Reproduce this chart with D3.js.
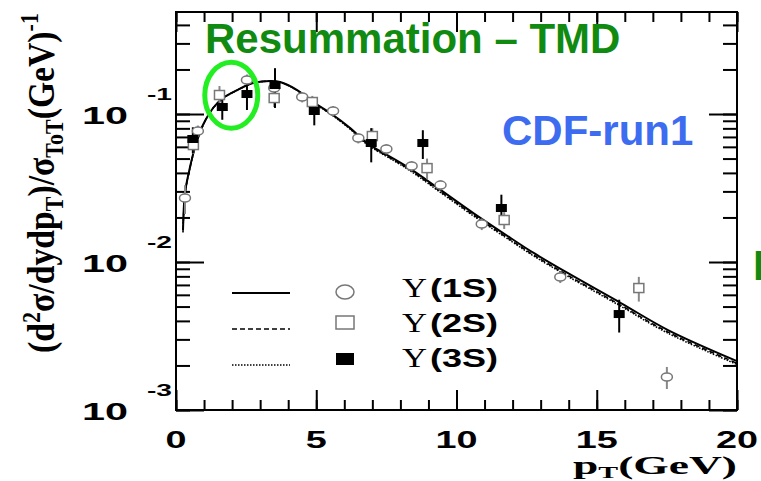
<!DOCTYPE html>
<html>
<head>
<meta charset="utf-8">
<script src="https://cdn.jsdelivr.net/npm/d3@7"></script>
<style>
body{margin:0;background:#fff;}
svg{display:block;}
</style>
</head>
<body>
<svg id="chart" width="761" height="481"></svg>
<script>
// resummation curves, one per state (almost on top of each other)
const modelPt = [0.25, 0.32, 0.5, 0.68, 0.96, 1.32, 1.68, 2.18, 2.75, 3.36, 3.71, 4.32, 4.89, 5.5, 6.21, 6.68, 7.04, 8.25, 9.43, 10.6, 11.93, 12.75, 13.96, 15.86, 17.54, 20.0];
const model1S = [0.01644, 0.02924, 0.04385, 0.05984, 0.08433, 0.1098, 0.1283, 0.1452, 0.1620, 0.1671, 0.1644, 0.1452, 0.1205, 0.1016, 0.0804, 0.0667, 0.0598, 0.0439, 0.0307, 0.0214, 0.01452, 0.01151, 0.00843, 0.00528, 0.00347, 0.00214];
const model2S = [0.01600, 0.02880, 0.04340, 0.05950, 0.08400, 0.1095, 0.1280, 0.1450, 0.1618, 0.1668, 0.1640, 0.1447, 0.1198, 0.1008, 0.0795, 0.0658, 0.0589, 0.0430, 0.0299, 0.0208, 0.01410, 0.01115, 0.00815, 0.00510, 0.00336, 0.00207];
const model3S = [0.01580, 0.02860, 0.04320, 0.05930, 0.08380, 0.1093, 0.1278, 0.1448, 0.1616, 0.1665, 0.1637, 0.1443, 0.1193, 0.1002, 0.0789, 0.0652, 0.0583, 0.0425, 0.0295, 0.0205, 0.01390, 0.01098, 0.00802, 0.00502, 0.00330, 0.00203];

// CDF run 1 points (value, relative error)
const pt1S  = [0.32, 0.78, 2.53, 3.5, 4.5, 5.6, 6.5, 7.5, 8.4, 9.43, 10.9, 13.7, 17.5];
const val1S = [0.02706, 0.0767, 0.1697, 0.1498, 0.1302, 0.1048, 0.0688, 0.0580, 0.0445, 0.0331, 0.01806, 0.00792, 0.00167];
const err1S = [0.22, 0.09, 0.09, 0.09, 0.08, 0.08, 0.08, 0.08, 0.08, 0.08, 0.09, 0.09, 0.17];

const pt2S  = [0.62, 1.55, 3.5, 4.86, 7.0, 8.95, 11.7, 16.5];
const val2S = [0.0617, 0.1344, 0.1282, 0.1205, 0.0710, 0.0431, 0.01922, 0.00667];
const err2S = [0.13, 0.15, 0.13, 0.10, 0.13, 0.16, 0.13, 0.19];

const pt3S  = [0.6, 1.65, 2.53, 3.53, 4.93, 6.96, 8.8, 11.6, 15.8];
const val3S = [0.0678, 0.1115, 0.1365, 0.1570, 0.1048, 0.0637, 0.0637, 0.02317, 0.00445];
const err3S = [0.20, 0.18, 0.22, 0.30, 0.20, 0.26, 0.22, 0.23, 0.25];

const xTickLabels = [0, 5, 10, 15, 20];
const yDecades = [-1, -2, -3];
const legendNames = ['1S', '2S', '3S'];

const mLeft = 176, mRight = 737, mTop = 12, mBottom = 410;
const SANS = 'Liberation Sans, Arial, sans-serif';
const SERIF = 'Liberation Serif, Times New Roman, serif';

const svg = d3.select('#chart');
const x = d3.scaleLinear().domain([0, 20]).range([mLeft, mRight]);
const y = d3.scaleLog().domain([1e-3, 0.489]).range([mBottom, mTop]);

// ---- axes (ticks pointing inward on all four sides)
const minorX = d3.range(0, 21);
const majorX = minorX.filter(d => d % 5 == 0);
const allY = y.ticks();
const majorY = allY.filter(d => Math.abs(Math.log10(d) - Math.round(Math.log10(d))) < 1e-6);

function axisGroup(axis, tx, ty) {
  const g = svg.append('g').attr('transform', `translate(${tx},${ty})`).call(axis);
  g.select('.domain').remove();
  g.selectAll('.tick line').attr('stroke', '#000').attr('stroke-width', 2);
  g.selectAll('text').remove();
  return g;
}
axisGroup(d3.axisBottom(x).tickValues(minorX).tickSize(-10), 0, mBottom);
axisGroup(d3.axisBottom(x).tickValues(majorX).tickSize(-20), 0, mBottom);
axisGroup(d3.axisTop(x).tickValues(minorX).tickSize(-10), 0, mTop);
axisGroup(d3.axisTop(x).tickValues(majorX).tickSize(-20), 0, mTop);
axisGroup(d3.axisLeft(y).tickValues(allY).tickSize(-14), mLeft, 0);
axisGroup(d3.axisLeft(y).tickValues(majorY).tickSize(-28), mLeft, 0);
axisGroup(d3.axisRight(y).tickValues(allY).tickSize(-14), mRight, 0);
axisGroup(d3.axisRight(y).tickValues(majorY).tickSize(-28), mRight, 0);

svg.append('rect')
  .attr('x', mLeft).attr('y', mTop)
  .attr('width', mRight - mLeft).attr('height', mBottom - mTop)
  .attr('fill', 'none').attr('stroke', '#000').attr('stroke-width', 2);

// tick labels (the original picture is stretched sideways)
svg.append('g').selectAll('text')
  .data(xTickLabels)
  .join('text')
  .attr('x', d => x(d)).attr('y', 448)
  .attr('text-anchor', 'middle')
  .attr('font-family', SANS).attr('font-weight', 'bold').attr('font-size', 24)
  .attr('textLength', d => String(d).length * 21)
  .attr('lengthAdjust', 'spacingAndGlyphs')
  .text(d => d);

const yl = svg.append('g').selectAll('g').data(yDecades).join('g');
yl.append('text')
  .attr('x', 82).attr('y', d => y(Math.pow(10, d)) + 10)
  .attr('font-family', SANS).attr('font-weight', 'bold').attr('font-size', 23)
  .attr('textLength', 46).attr('lengthAdjust', 'spacingAndGlyphs')
  .text('10');
yl.append('text')
  .attr('x', 147).attr('y', d => y(Math.pow(10, d)) - 14)
  .attr('font-family', SANS).attr('font-weight', 'bold').attr('font-size', 17)
  .attr('textLength', 25).attr('lengthAdjust', 'spacingAndGlyphs')
  .text(d => d);

// axis titles
const xt = svg.append('text')
  .attr('font-family', SERIF).attr('font-weight', 'bold').attr('font-size', 26);
xt.append('tspan').text('p');
xt.append('tspan').attr('font-size', 17).attr('dy', 4).text('T');
xt.append('tspan').attr('dy', -4).text('(GeV)');
{
  const len = xt.node().getComputedTextLength();
  xt.attr('transform', `translate(${mRight - 164},474) scale(${164 / len},1)`);
}

const yt = svg.append('text')
  .attr('font-family', SERIF).attr('font-weight', 'bold').attr('font-size', 26)
  .attr('text-anchor', 'middle');
yt.append('tspan').text('(d');
yt.append('tspan').attr('font-size', 17).attr('dy', -10).text('2');
yt.append('tspan').attr('dy', 10).text('σ/dydp');
yt.append('tspan').attr('font-size', 17).attr('dy', 6).text('T');
yt.append('tspan').attr('dy', -6).text(')/σ');
yt.append('tspan').attr('font-size', 17).attr('dy', 6).text('ToT');
yt.append('tspan').attr('dy', -6).text('(GeV)');
yt.append('tspan').attr('font-size', 17).attr('dy', -11).text('-1');
{
  const len = yt.node().getComputedTextLength();
  yt.attr('transform', `translate(54,183) rotate(-90) scale(${340 / len},1.42)`);
}

// ---- model curves
const line = d3.line().curve(d3.curveCatmullRom)
  .x(d => x(d[0])).y(d => y(d[1]));
const curves = [
  {vals: model1S, dash: null, w: 2},
  {vals: model2S, dash: '5,3', w: 1.5},
  {vals: model3S, dash: '1.5,1.5', w: 1.5}
];
svg.append('g').selectAll('path')
  .data(curves)
  .join('path')
  .attr('d', c => line(d3.zip(modelPt, c.vals)))
  .attr('fill', 'none').attr('stroke', '#000')
  .attr('stroke-width', c => c.w)
  .attr('stroke-dasharray', c => c.dash);

// ---- data points
function errBars(pts, vals, errs, color) {
  svg.append('g').selectAll('line')
    .data(d3.zip(pts, vals, errs))
    .join('line')
    .attr('x1', d => x(d[0])).attr('x2', d => x(d[0]))
    .attr('y1', d => y(d[1] * (1 + d[2]))).attr('y2', d => y(d[1] * (1 - d[2])))
    .attr('stroke', color).attr('stroke-width', 2);
}
errBars(pt1S, val1S, err1S, '#888');
errBars(pt2S, val2S, err2S, '#888');
errBars(pt3S, val3S, err3S, '#000');

svg.append('g').selectAll('ellipse')
  .data(d3.zip(pt1S, val1S))
  .join('ellipse')
  .attr('cx', d => x(d[0])).attr('cy', d => y(d[1]))
  .attr('rx', 5.5).attr('ry', 4)
  .attr('fill', '#fff').attr('stroke', '#777').attr('stroke-width', 1.5);

svg.append('g').selectAll('rect')
  .data(d3.zip(pt2S, val2S))
  .join('rect')
  .attr('x', d => x(d[0]) - 5).attr('y', d => y(d[1]) - 4.5)
  .attr('width', 10).attr('height', 9)
  .attr('fill', '#fff').attr('stroke', '#777').attr('stroke-width', 1.5);

svg.append('g').selectAll('rect')
  .data(d3.zip(pt3S, val3S))
  .join('rect')
  .attr('x', d => x(d[0]) - 5.5).attr('y', d => y(d[1]) - 4)
  .attr('width', 11).attr('height', 8)
  .attr('fill', '#000');

// ---- legend
const legY = [293, 329, 365];
const lg = svg.append('g');
curves.forEach((c, i) => {
  lg.append('line')
    .attr('x1', 232).attr('x2', 290).attr('y1', legY[i]).attr('y2', legY[i])
    .attr('stroke', '#000').attr('stroke-width', c.w).attr('stroke-dasharray', c.dash);
});
lg.append('ellipse').attr('cx', 345).attr('cy', 292).attr('rx', 9).attr('ry', 7)
  .attr('fill', 'none').attr('stroke', '#777').attr('stroke-width', 1.5);
lg.append('rect').attr('x', 336).attr('y', 316).attr('width', 18).attr('height', 13)
  .attr('fill', 'none').attr('stroke', '#777').attr('stroke-width', 1.5);
lg.append('rect').attr('x', 336).attr('y', 353).attr('width', 18).attr('height', 12)
  .attr('fill', '#000');
const labBase = [297, 332, 367];
legendNames.forEach((n, i) => {
  lg.append('text').attr('x', 402).attr('y', labBase[i])
    .attr('font-family', SERIF).attr('font-size', 27)
    .attr('textLength', 25).attr('lengthAdjust', 'spacingAndGlyphs')
    .text('Υ');
  lg.append('text').attr('x', 430).attr('y', labBase[i])
    .attr('font-family', SANS).attr('font-weight', 'bold').attr('font-size', 25)
    .attr('textLength', 68).attr('lengthAdjust', 'spacingAndGlyphs')
    .text(`(${n})`);
});

// ---- overlays added on the slide
svg.append('text').attr('x', 205).attr('y', 53)
  .attr('font-family', SANS).attr('font-weight', 'bold').attr('font-size', 42)
  .attr('fill', '#118a11')
  .text('Resummation – TMD');
svg.append('text').attr('x', 502).attr('y', 145)
  .attr('font-family', SANS).attr('font-weight', 'bold').attr('font-size', 42)
  .attr('fill', '#3d6cf0')
  .text('CDF-run1');
svg.append('text').attr('x', 753).attr('y', 280)
  .attr('font-family', SANS).attr('font-weight', 'bold').attr('font-size', 42)
  .attr('fill', '#118a11')
  .text('Resummation');
svg.append('ellipse')
  .attr('cx', x(1.97)).attr('cy', y(0.134))
  .attr('rx', 26.5).attr('ry', 33)
  .attr('fill', 'none').attr('stroke', '#22ee22').attr('stroke-width', 5);
</script>
</body>
</html>
